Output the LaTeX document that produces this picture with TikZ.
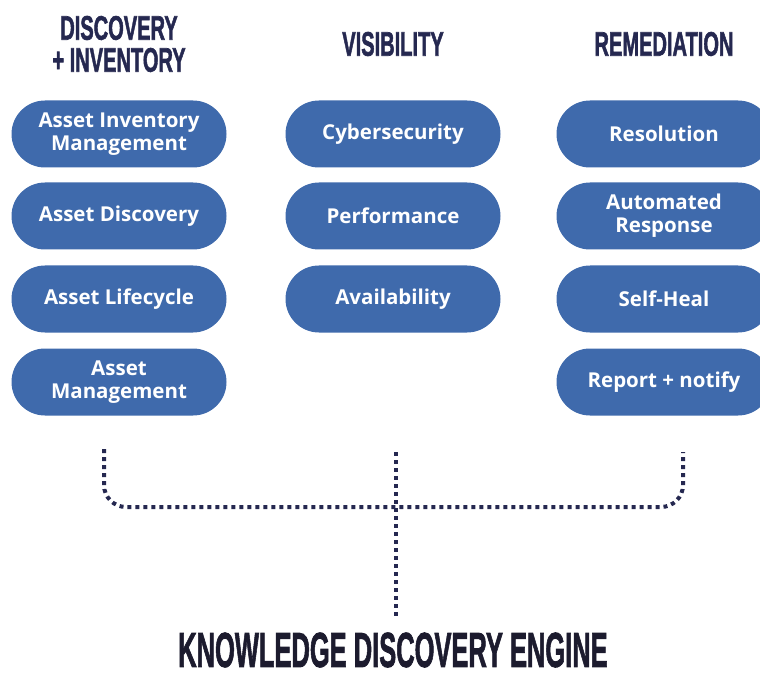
\documentclass[tikz,border=0pt]{standalone}
\usepackage{fontspec}
\usepackage{graphicx}
\setmainfont{Open Sans}
\newfontfamily\headfont[BoldFeatures={FakeBold=2}]{Liberation Sans}
\definecolor{pillblue}{HTML}{3F6AAC}
\definecolor{navy}{HTML}{252850}
\definecolor{inkblack}{HTML}{1C1B2E}
\newcommand{\headline}[2][0.59]{\scalebox{#1}[1]{\headfont\bfseries #2}}
\tikzset{
  pill/.style={fill=pillblue, text=white, rounded corners=33.5pt,
    minimum width=215pt, minimum height=67pt, align=center,
    font=\fontsize{20.5}{23}\selectfont\bfseries},
  header/.style={text=navy, align=center, inner sep=0pt,
    font=\fontsize{34}{32}\selectfont},
  dots/.style={navy, line width=4pt, dash pattern=on 4pt off 4pt}
}

\begin{document}
\begin{tikzpicture}[x=1pt, y=-1pt]
\clip (0,0) rectangle (760,676);
% Headers
    \node[header] (hdisc) at (119,44) {\headline{DISCOVERY}\\\headline{+ INVENTORY}};
    \node[header] (hvis) at (393,44) {\headline{VISIBILITY}};
    \node[header] (hrem) at (664,44) {\headline{REMEDIATION}};
% Discovery + inventory
    \node[pill] (inv) at (119,134) {Asset Inventory\\Management};
    \node[pill] (disc) at (119,216) {Asset Discovery};
    \node[pill] (life) at (119,299) {Asset Lifecycle};
    \node[pill] (mgmt) at (119,382) {Asset\\Management};
% Visibility
    \node[pill] (cyber) at (393,134) {Cybersecurity};
    \node[pill] (perf) at (393,216) {Performance};
    \node[pill] (avail) at (393,299) {Availability};
% Remediation
    \node[pill] (resol) at (664,134) {Resolution};
    \node[pill] (auto) at (664,216) {Automated\\Response};
    \node[pill] (heal) at (664,299) {Self-Heal};
    \node[pill] (report) at (664,382) {Report + notify};
% Engine
    \node[header, text=inkblack, font=\fontsize{49}{49}\selectfont] (engine) at (393,650)
        {\headline[0.52]{KNOWLEDGE DISCOVERY ENGINE}};
% Dotted bracket
    \coordinate (lefttop) at (104,449);
    \coordinate (righttop) at (683,452);
    \coordinate (midtop) at (396,452);
    \coordinate (midjoin) at (396,507);
    \coordinate (midend) at (396,618);
    \draw[dots, rounded corners=22pt] (lefttop) -- (104,507) -- (683,507) -- (righttop);
    \draw[dots] (midtop) -- (midjoin) -- (midend);
\end{tikzpicture}
\end{document}
